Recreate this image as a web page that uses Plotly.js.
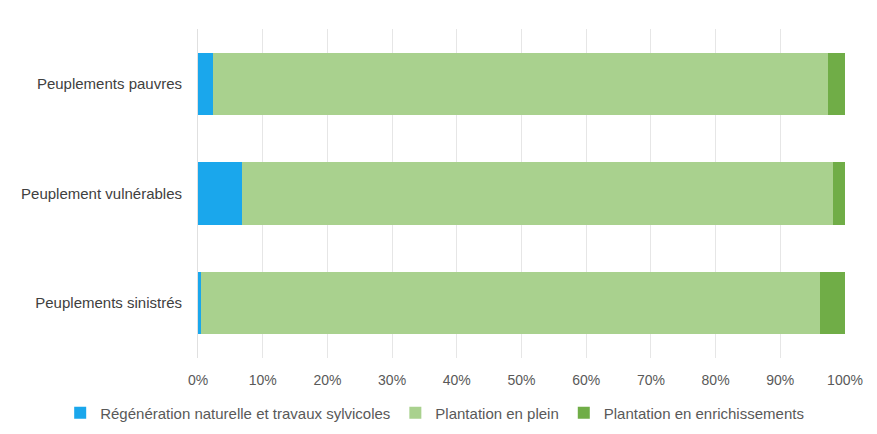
<!DOCTYPE html>
<html><head><meta charset="utf-8">
<script src="https://cdn.plot.ly/plotly-3.0.1.min.js"></script>
<style>body{margin:0;background:#fff}</style></head>
<body><div id="chart" style="width:877px;height:434px"></div>
<script>
const categories = ["Peuplements sinistrés", "Peuplement vulnérables", "Peuplements pauvres"];
const regeneration = [0.4, 6.8, 2.3];
const pleinPlantation = [95.8, 91.3, 95.1];
const enrichissement = [3.8, 1.9, 2.6];
const seriesNames = ["Régénération naturelle et travaux sylvicoles", "Plantation en plein", "Plantation en enrichissements"];
const colors = ["#1AA7EC", "#A9D18E", "#70AD47"];
const vals = [regeneration, pleinPlantation, enrichissement];
const traces = vals.map((v, i) => ({
  type: "bar", orientation: "h", y: categories, x: v, name: seriesNames[i],
  marker: {color: colors[i]}, hoverinfo: "x+name"
}));
Plotly.newPlot("chart", traces, {
  barmode: "stack", bargap: 0.43,
  width: 877, height: 434,
  margin: {l: 198, r: 32, t: 29, b: 76, autoexpand: false},
  font: {family: "Liberation Sans, sans-serif", size: 14, color: "#404040"},
  paper_bgcolor: "#fff", plot_bgcolor: "#fff",
  xaxis: {range: [0, 100], dtick: 10, ticksuffix: "%", gridcolor: "#e6e6e6", zeroline: false,
    showline: false, ticks: "", tickfont: {size: 14, color: "#595959"}, automargin: false, ticklabelstandoff: 12},
  yaxis: {ticks: "", tickfont: {size: 15, color: "#404040"}, showline: true, linecolor: "#e0e0e0", ticklabelstandoff: 12, automargin: false},
  legend: {orientation: "h", x: -0.213, xanchor: "left", xref: "paper", y: -0.167, yanchor: "middle", yref: "paper",
    font: {size: 15, color: "#595959"}, traceorder: "normal", itemwidth: 30, tracegroupgap: 0},
  showlegend: true
}, {displayModeBar: false, staticPlot: true});
</script></body></html>
